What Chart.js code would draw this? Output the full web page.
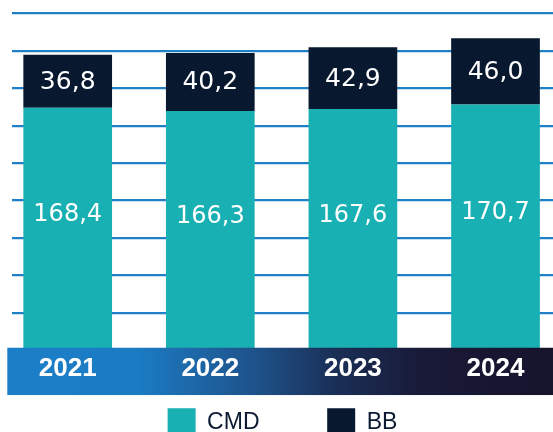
<!DOCTYPE html>
<html><head><meta charset="utf-8">
<style>html,body{margin:0;padding:0;background:#fff}#wrap{width:553px;height:432px;position:relative;overflow:hidden}</style>
<script src="https://cdn.jsdelivr.net/npm/chart.js@4.4.1/dist/chart.umd.min.js"></script>
</head><body><div id="wrap"><canvas id="c" width="553" height="432"></canvas></div>
<script>
const years = [2021, 2022, 2023, 2024];
const yearLabels = ['2021', '2022', '2023', '2024'];
const cmdValues = [168.4, 166.3, 167.6, 170.7];
const bbValues = [36.8, 40.2, 42.9, 46.0];
const seriesNames = ['CMD', 'BB'];

const TEAL = '#19b0b4', NAVY = '#08182f', GRID = '#1f80c6';
const fmt = v => v.toFixed(1).replace('.', ',');

const bandPlugin = {
  id: 'band',
  afterDatasetsDraw(chart) {
    const {ctx, chartArea, scales} = chart;
    const y0 = scales.y.getPixelForValue(0);
    const top = y0 - 2.6, h = 47.3, left = chartArea.left - 4.7, right = chart.width;
    const g = ctx.createLinearGradient(left, 0, right, 0);
    g.addColorStop(0, '#1b7fc8');
    g.addColorStop(0.24, '#1b7bc3');
    g.addColorStop(0.46, '#1e5189');
    g.addColorStop(0.6, '#1a2f56');
    g.addColorStop(0.76, '#191a38');
    g.addColorStop(1, '#16132c');
    ctx.save();
    ctx.fillStyle = g;
    ctx.fillRect(left, top, right - left, h);
    ctx.fillStyle = '#ffffff';
    ctx.textAlign = 'center';
    ctx.textBaseline = 'middle';
    chart.data.datasets.forEach((ds, di) => {
      const meta = chart.getDatasetMeta(di);
      meta.data.forEach((el, i) => {
        const v = ds.data[i].y;
        let cy;
        if (di === 0) {
          ctx.font = '24px "DejaVu Sans"';
          cy = (el.y + top) / 2 - 13;
        } else {
          ctx.font = '25px "DejaVu Sans"';
          cy = (el.y + el.base) / 2 + 1;
        }
        ctx.fillText(fmt(v), el.x, cy);
      });
    });
    ctx.restore();
  }
};

new Chart(document.getElementById('c'), {
  type: 'bar',
  data: {
    datasets: [
      { label: seriesNames[0], data: years.map((x, i) => ({x, y: cmdValues[i]})), backgroundColor: TEAL,
        stack: 's', clip: false, barPercentage: 0.622, categoryPercentage: 1, borderWidth: 0 },
      { label: seriesNames[1], data: years.map((x, i) => ({x, y: bbValues[i]})), backgroundColor: NAVY,
        stack: 's', clip: false, barPercentage: 0.622, categoryPercentage: 1, borderWidth: 0 }
    ]
  },
  options: {
    responsive: false,
    animation: false,
    devicePixelRatio: 1,
    layout: { padding: { left: 12, right: 0, top: 0, bottom: 0 } },
    scales: {
      x: {
        type: 'linear', stacked: true, offset: false, min: 2020.6094, max: 2024.4032,
        grid: { display: false, offset: false }, border: { display: false },
        afterBuildTicks: s => { s.ticks = years.map(v => ({ value: v })); },
        afterFit: s => { s.height = 0; },
        ticks: { z: 1, mirror: true, padding: -44, color: '#ffffff', autoSkip: false, maxRotation: 0,
          font: { family: 'Liberation Sans', size: 26, weight: 'bold' },
          callback: (v, i) => yearLabels[i] }
      },
      y: {
        stacked: true, min: 6.77, max: 243.3,
        ticks: { display: false, stepSize: 26, includeBounds: false },
        grid: { color: GRID, lineWidth: 2.2, drawTicks: false },
        border: { display: false },
        afterFit: s => { s.width = 0; }
      }
    },
    plugins: {
      tooltip: { enabled: false },
      legend: {
        position: 'bottom', maxHeight: 91.4,
        labels: { boxWidth: 28, boxHeight: 28, padding: 67.7, color: '#0b1a30',
          font: { family: 'Liberation Sans', size: 23 } }
      }
    }
  },
  plugins: [bandPlugin]
});
</script>
</body></html>
